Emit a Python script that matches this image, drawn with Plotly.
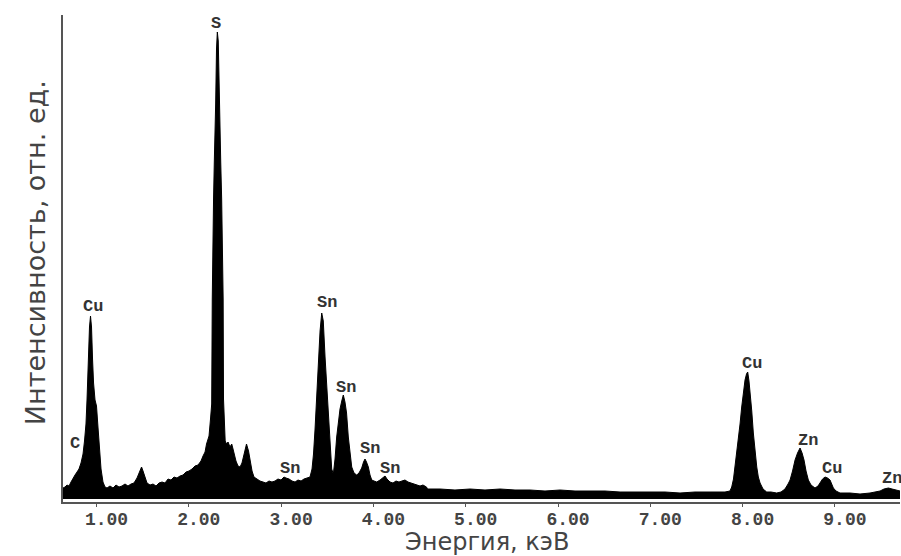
import plotly.graph_objects as go

# Energy (keV) and intensity (rel. units)
energy_kev = [
    0.637, 0.659, 0.680, 0.702, 0.724, 0.745, 0.767, 0.789, 0.810, 0.832,
    0.854, 0.870, 0.886, 0.897, 0.911, 0.924, 0.935, 0.946, 0.957, 0.968,
    0.984, 1.000, 1.016, 1.033, 1.049, 1.070, 1.092, 1.114,
    1.146, 1.179, 1.211, 1.244, 1.276, 1.309, 1.341, 1.374, 1.406, 1.439,
    1.466, 1.488, 1.504, 1.525, 1.547, 1.580, 1.612, 1.645, 1.677, 1.710,
    1.742, 1.775, 1.807, 1.840, 1.872, 1.905, 1.937, 1.970, 2.002, 2.035,
    2.067, 2.100, 2.132, 2.154, 2.176, 2.192,
    2.203, 2.219, 2.235, 2.248, 2.254, 2.260, 2.268, 2.276, 2.284, 2.291,
    2.300, 2.309, 2.319, 2.330, 2.338, 2.346, 2.356, 2.365, 2.372, 2.376,
    2.385, 2.394, 2.409, 2.425, 2.446, 2.465, 2.479, 2.495, 2.511, 2.533,
    2.555, 2.576, 2.598, 2.625, 2.647, 2.663, 2.685, 2.706, 2.739, 2.771,
    2.804, 2.836, 2.869, 2.901, 2.934, 2.966, 2.999, 3.031, 3.053, 3.086,
    3.118, 3.151, 3.183, 3.216, 3.248, 3.281, 3.313,
    3.335, 3.351, 3.367, 3.387, 3.403, 3.422, 3.440, 3.457, 3.476, 3.492,
    3.511, 3.530, 3.548, 3.566, 3.584, 3.602, 3.622, 3.638, 3.657, 3.674,
    3.692, 3.709, 3.728, 3.747, 3.765, 3.790, 3.819, 3.844, 3.873, 3.893,
    3.909, 3.925, 3.945, 3.963, 3.982, 4.007, 4.036, 4.072, 4.104, 4.126,
    4.147, 4.180, 4.212, 4.245, 4.277, 4.310, 4.342, 4.375, 4.407, 4.440,
    4.472, 4.505, 4.537, 4.575,
    4.586, 4.722, 4.884, 5.047, 5.209, 5.372, 5.534, 5.697, 5.859, 6.022,
    6.184, 6.347, 6.509, 6.672, 6.834, 6.997, 7.159, 7.322, 7.484, 7.647,
    7.809, 7.863,
    7.882, 7.901, 7.918, 7.936, 7.953, 7.972, 7.990, 8.008, 8.026, 8.042,
    8.055, 8.069, 8.080, 8.099, 8.116, 8.134, 8.153, 8.170, 8.189, 8.221,
    8.261, 8.308, 8.369, 8.416, 8.459, 8.492, 8.514, 8.541, 8.568, 8.595,
    8.622, 8.644, 8.665, 8.687, 8.712, 8.741, 8.784, 8.817, 8.839, 8.866,
    8.893, 8.920, 8.947, 8.983, 9.012, 9.055, 9.164, 9.272, 9.380, 9.489,
    9.532, 9.579, 9.619, 9.670, 9.705,
]

intensity = [
    11, 12, 14, 13, 17, 21, 24, 27, 30, 36,
    45, 58, 75, 99, 142, 172, 183, 172, 140, 116,
    99, 93, 72, 50, 30, 17, 12, 11,
    13, 11, 14, 12, 13, 15, 13, 15, 16, 21,
    28, 32, 28, 21, 16, 14, 15, 13, 16, 17,
    16, 20, 19, 22, 21, 23, 24, 27, 28, 30,
    33, 34, 38, 43, 47, 55,
    58, 63, 80, 95, 200, 260, 300, 336, 362, 395,
    450, 467, 458, 395, 362, 336, 300, 260, 200, 100,
    75, 58, 55, 57, 52, 55, 50, 42, 38, 33,
    32, 36, 45, 55, 48, 38, 28, 22, 20, 18,
    17, 16, 18, 17, 18, 20, 19, 22, 21, 20,
    18, 17, 19, 18, 20, 21, 22,
    30, 45, 69, 105, 142, 168, 186, 178, 142, 115,
    82, 50, 30, 25, 40, 62, 78, 90, 98, 104,
    97, 86, 62, 45, 32, 26, 24, 26, 31, 37,
    40, 37, 32, 24, 19, 18, 17, 19, 21, 23,
    20, 17, 16, 18, 17, 18, 19, 17, 16, 15,
    14, 13, 14, 12,
    10, 10, 9, 10, 9, 10, 9, 9, 8, 9,
    8, 8, 8, 7, 7, 7, 7, 6, 7, 7,
    7, 8,
    12, 20, 32, 45, 59, 75, 92, 106, 119, 125,
    127, 118, 109, 88, 66, 47, 32, 22, 16, 10,
    7, 7, 6, 7, 10, 15, 19, 28, 39, 46,
    51, 46, 39, 28, 19, 14, 11, 13, 16, 20,
    22, 21, 19, 11, 8, 6, 6, 5, 6, 8,
    10, 11, 10, 9, 8,
]

tick_values = [1, 2, 3, 4, 5, 6, 7, 8, 9]
tick_labels = ["1.00", "2.00", "3.00", "4.00", "5.00", "6.00", "7.00", "8.00", "9.00"]

# Peak labels: element, energy (keV), label height (rel. units)
peak_names = ["C", "Cu", "S", "Sn", "Sn", "Sn", "Sn", "Sn", "Cu", "Zn", "Cu", "Zn"]
peak_energy = [0.767, 0.962, 2.295, 3.498, 3.703, 3.963, 4.180, 3.096, 8.102, 8.709, 8.969, 9.489]
peak_label_y = [56, 193, 476, 197, 112, 51, 31, 31, 136, 59, 31, 21]

fig = go.Figure()
fig.add_trace(go.Scatter(
    x=energy_kev, y=intensity, mode="lines",
    fill="tozeroy", fillcolor="black",
    line=dict(color="black", width=1),
    hoverinfo="skip", showlegend=False,
))

label_font = dict(family="Liberation Mono", size=17, color="#333333", weight="bold")
annotations = []
for i, (name, e, yv) in enumerate(zip(peak_names, peak_energy, peak_label_y)):
    last = i == len(peak_names) - 1
    annotations.append(dict(
        x=e, y=yv, xref="x", yref="y", text=name, showarrow=False,
        font=label_font, xanchor="left" if last else "center", yanchor="middle",
    ))

annotations.append(dict(
    x=-0.0335, y=0.513, xref="paper", yref="paper",
    text="Интенсивность, отн. ед.", showarrow=False, textangle=-90,
    font=dict(family="DejaVu Sans", size=27, color="#444444"),
    xanchor="center", yanchor="middle",
))
annotations.append(dict(
    x=0.5066, y=-0.083, xref="paper", yref="paper",
    text="Энергия, кэВ", showarrow=False,
    font=dict(family="DejaVu Sans", size=24, color="#444444"),
    xanchor="center", yanchor="middle",
))

fig.update_layout(
    width=901, height=556,
    margin=dict(l=63, r=1, t=15, b=54),
    paper_bgcolor="white", plot_bgcolor="white",
    annotations=annotations,
    xaxis=dict(
        range=[0.637, 9.705], showgrid=False, zeroline=False,
        showline=True, linecolor="#555555", linewidth=2,
        ticks="outside", ticklen=3, tickwidth=1, tickcolor="#555555",
        tickvals=tick_values, ticktext=tick_labels, ticklabelshift=10,
        ticklabelstandoff=-4,
        tickfont=dict(family="Liberation Mono", size=18, color="#444444", weight="bold"),
    ),
    yaxis=dict(
        range=[-3, 484], showgrid=False, zeroline=False,
        showline=True, linecolor="#555555", linewidth=2,
        showticklabels=False, ticks="",
    ),
)

fig.write_html(
    "out.html",
    config={"displayModeBar": False},
    post_script="document.body.style.margin='0';document.body.style.padding='0';document.body.style.overflow='hidden';",
)
